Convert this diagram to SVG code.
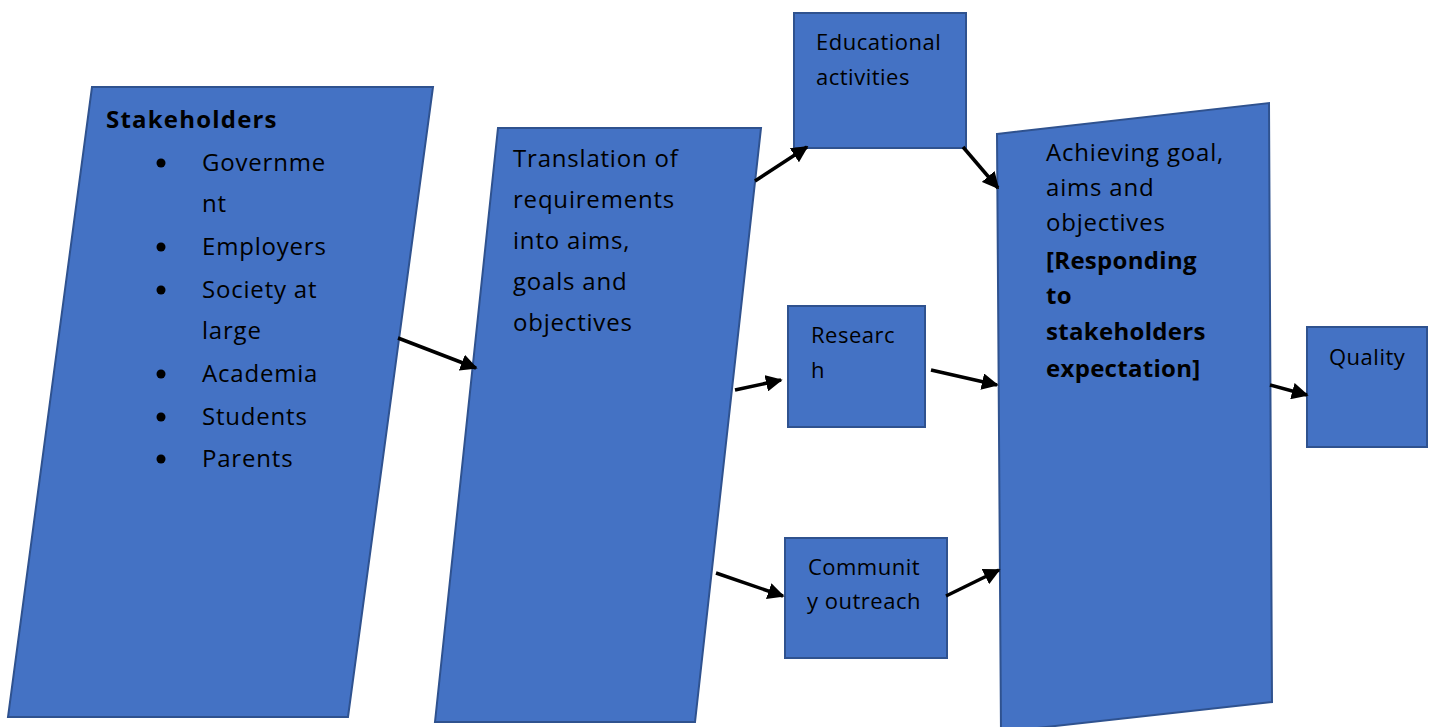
<svg xmlns="http://www.w3.org/2000/svg" width="1435" height="727" viewBox="0 0 1435 727">
  <defs>
    <style>
      .shape { fill: #4472C4; stroke: #2F528F; stroke-width: 2; }
      .lbl { font-family: "Open Sans", "Liberation Sans", sans-serif; fill: #000; font-variant-ligatures: none; }
      .big { font-size: 24px; letter-spacing: 0.8px; }
      .small { font-size: 22px; letter-spacing: 0.5px; }
      .b { font-weight: bold; letter-spacing: 1.2px; }
      .bn { font-weight: bold; letter-spacing: 0.3px; }
      .edge { stroke: #000; stroke-width: 3.5; fill: none; marker-end: url(#head); }
    </style>
    <marker id="head" viewBox="0 0 10 10" refX="9" refY="5" markerWidth="4.8" markerHeight="4.8" orient="auto" markerUnits="strokeWidth">
      <path d="M0,0 L10,5 L0,10 z" fill="#000"/>
    </marker>
  </defs>

  <rect width="1435" height="727" fill="#fff"/>

  <!-- Stakeholders -->
  <g id="stakeholders">
    <polygon class="shape" points="92,87 433,87 348,717 8,717"/>
    <text class="lbl big b" x="106" y="128">Stakeholders</text>
    <g fill="#000">
      <circle cx="161" cy="163" r="4.5"/>
      <circle cx="161" cy="247" r="4.5"/>
      <circle cx="161" cy="290" r="4.5"/>
      <circle cx="161" cy="374" r="4.5"/>
      <circle cx="161" cy="417" r="4.5"/>
      <circle cx="161" cy="459" r="4.5"/>
    </g>
    <g class="lbl big">
      <text x="202" y="171">Governme</text>
      <text x="202" y="212">nt</text>
      <text x="202" y="255">Employers</text>
      <text x="202" y="298">Society at</text>
      <text x="202" y="339">large</text>
      <text x="202" y="382">Academia</text>
      <text x="202" y="425">Students</text>
      <text x="202" y="467">Parents</text>
    </g>
  </g>

  <!-- Translation of requirements -->
  <g id="translation">
    <polygon class="shape" points="498,128 761,128 695,722 435,722"/>
    <g class="lbl big">
      <text x="513" y="167">Translation of</text>
      <text x="513" y="208">requirements</text>
      <text x="513" y="249">into aims,</text>
      <text x="513" y="290">goals and</text>
      <text x="513" y="331">objectives</text>
    </g>
  </g>

  <!-- Educational activities -->
  <g id="educational">
    <rect class="shape" x="794" y="13" width="172" height="135"/>
    <g class="lbl small">
      <text x="816" y="50">Educational</text>
      <text x="816" y="85">activities</text>
    </g>
  </g>

  <!-- Research -->
  <g id="research">
    <rect class="shape" x="788" y="306" width="137" height="121"/>
    <g class="lbl small">
      <text x="811" y="343">Researc</text>
      <text x="811" y="378">h</text>
    </g>
  </g>

  <!-- Community outreach -->
  <g id="community">
    <rect class="shape" x="785" y="538" width="162" height="120"/>
    <g class="lbl small" text-anchor="middle">
      <text x="864" y="575">Communit</text>
      <text x="864" y="609">y outreach</text>
    </g>
  </g>

  <!-- Achieving goals -->
  <g id="achieving">
    <polygon class="shape" points="997,134 1269,103 1272,702 1001,732"/>
    <g class="lbl big">
      <text x="1046" y="161">Achieving goal,</text>
      <text x="1046" y="196">aims and</text>
      <text x="1046" y="231">objectives</text>
      <text class="bn" x="1046" y="269">[Responding</text>
      <text class="bn" x="1046" y="304">to</text>
      <text class="bn" x="1046" y="340">stakeholders</text>
      <text class="bn" x="1046" y="377">expectation]</text>
    </g>
  </g>

  <!-- Quality -->
  <g id="quality">
    <rect class="shape" x="1307" y="327" width="120" height="120"/>
    <text class="lbl small" x="1329" y="365">Quality</text>
  </g>

  <!-- Connectors -->
  <g id="connectors">
    <line class="edge" x1="398" y1="338" x2="476" y2="368"/>
    <line class="edge" x1="755" y1="181" x2="807" y2="147"/>
    <line class="edge" x1="963" y1="147" x2="998" y2="188"/>
    <line class="edge" x1="735" y1="390" x2="781" y2="380"/>
    <line class="edge" x1="931" y1="370" x2="997" y2="385"/>
    <line class="edge" x1="716" y1="573" x2="783" y2="596"/>
    <line class="edge" x1="946" y1="596" x2="999" y2="570"/>
    <line class="edge" x1="1270" y1="385" x2="1307" y2="395"/>
  </g>
</svg>
